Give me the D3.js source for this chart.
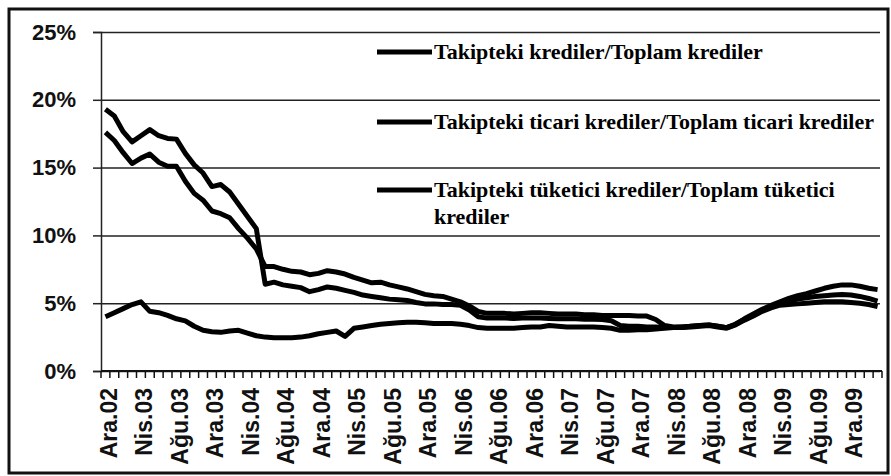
<!DOCTYPE html>
<html lang="tr">
<head>
<meta charset="UTF-8">
<title>Takipteki krediler</title>
<script src="https://cdn.jsdelivr.net/npm/d3@7/dist/d3.min.js"></script>
<style>
  body { margin: 0; background: #fff; }
  .ylab text { font: bold 22px "Liberation Sans", Arial, sans-serif; fill: #111; }
  .xlab { font: bold 23px "Liberation Sans", Arial, sans-serif; fill: #111; }
  .legend text { font: bold 22px "Liberation Serif", "Times New Roman", serif; fill: #000; }
</style>
</head>
<body>
<div id="chart"></div>
<script>
// month names used for the category axis
var monthNames = ["Oca", "Şub", "Mar", "Nis", "May", "Haz", "Tem", "Ağu", "Eyl", "Eki", "Kas", "Ara"];
// Ara.02 .. Mar.10, one category per month
var months = [];
for (var yr = 2; yr <= 10; yr++) {
  for (var m = 0; m < 12; m++) {
    if ((yr === 2 && m < 11) || (yr === 10 && m > 2)) continue;
    months.push(monthNames[m] + "." + (yr < 10 ? "0" + yr : yr));
  }
}
var yTicks = [0, 0.05, 0.10, 0.15, 0.20, 0.25];

var seriesNames = [
  "Takipteki krediler/Toplam krediler",
  "Takipteki ticari krediler/Toplam ticari krediler",
  "Takipteki tüketici krediler/Toplam tüketici krediler"
];

// values in %
var toplam = [17.6, 17.0, 16.1, 15.3, 15.7, 16.0, 15.4, 15.1, 15.1, 14.0, 13.1, 12.6, 11.8, 11.6, 11.3, 10.5, 9.8, 9.0,
  7.7, 7.7, 7.5, 7.35, 7.3, 7.1, 7.2, 7.4, 7.3, 7.15, 6.9, 6.7, 6.5, 6.55, 6.35, 6.2, 6.05, 5.85, 5.65, 5.55, 5.5, 5.3,
  5.1, 4.8, 4.4, 4.25, 4.25, 4.25, 4.2, 4.25, 4.3, 4.3, 4.25, 4.2, 4.2, 4.2, 4.15, 4.15, 4.1, 4.1, 4.1, 4.1, 4.05, 4.05,
  3.8, 3.35, 3.25, 3.25, 3.3, 3.35, 3.4, 3.3, 3.2, 3.45, 3.8, 4.1, 4.45, 4.75, 5.0, 5.15, 5.3, 5.4, 5.5, 5.55, 5.6, 5.65,
  5.6, 5.5, 5.35, 5.15];
var ticari = [19.3, 18.8, 17.65, 16.9, 17.35, 17.8, 17.35, 17.15, 17.1, 16.05, 15.2, 14.6, 13.6, 13.75, 13.2, 12.3, 11.4, 10.5,
  6.4, 6.55, 6.35, 6.25, 6.15, 5.85, 6.0, 6.2, 6.1, 5.95, 5.8, 5.6, 5.5, 5.4, 5.3, 5.25, 5.2, 5.05, 4.95, 4.95, 4.9, 4.9,
  4.85, 4.5, 4.0, 3.9, 3.9, 3.9, 3.88, 3.9, 3.9, 3.9, 3.88, 3.85, 3.85, 3.85, 3.82, 3.82, 3.8, 3.7, 3.35, 3.3, 3.3, 3.25,
  3.25, 3.2, 3.2, 3.2, 3.25, 3.3, 3.35, 3.25, 3.15, 3.4, 3.75, 4.05, 4.4, 4.65, 4.85, 4.9, 4.95, 5.0, 5.05, 5.1, 5.1, 5.1,
  5.05, 5.0, 4.9, 4.75];
var tuketici = [4.0, 4.3, 4.6, 4.9, 5.1, 4.4, 4.3, 4.1, 3.85, 3.7, 3.3, 3.0, 2.9, 2.85, 2.95, 3.0, 2.8, 2.6,
  2.5, 2.45, 2.45, 2.45, 2.5, 2.6, 2.75, 2.85, 2.95, 2.55, 3.15, 3.25, 3.35, 3.45, 3.5, 3.55, 3.6, 3.6, 3.55, 3.5, 3.5, 3.5,
  3.45, 3.35, 3.2, 3.15, 3.15, 3.15, 3.15, 3.2, 3.25, 3.25, 3.35, 3.3, 3.25, 3.25, 3.25, 3.25, 3.2, 3.15, 3.0, 3.0, 3.05, 3.05,
  3.1, 3.15, 3.2, 3.25, 3.3, 3.35, 3.4, 3.3, 3.2, 3.45, 3.85, 4.2, 4.55, 4.85, 5.1, 5.35, 5.55, 5.7, 5.9, 6.1, 6.25, 6.35,
  6.35, 6.25, 6.1, 6.0];

var W = 891, H = 476;
var plotL = 101, plotR = 882, plotT = 32, plotB = 371;

var svg = d3.select("#chart").append("svg")
    .attr("width", W)
    .attr("height", H);

// outer frame
svg.append("rect")
    .attr("x", 9).attr("y", 9)
    .attr("width", 879).attr("height", 464)
    .attr("fill", "none")
    .attr("stroke", "#111")
    .attr("stroke-width", 3);

var x = d3.scaleBand().domain(months).range([plotL, plotR]).padding(0);
var y = d3.scaleLinear().domain([0, 0.25]).range([plotB, plotT]);
var bw = x.bandwidth();

// gridlines + y labels
svg.append("g")
    .attr("class", "ylab")
    .attr("transform", "translate(" + plotL + ",0)")
    .call(d3.axisLeft(y).tickValues(yTicks).tickFormat(d3.format(".0%")).tickSize(8).tickPadding(17))
    .call(function(g) {
      g.select(".domain").attr("stroke", "#222").attr("stroke-width", 1.5);
      g.selectAll(".tick line").attr("stroke", "#222").attr("stroke-width", 1.5);
      g.selectAll(".tick").append("line")
          .attr("x2", plotR - plotL - 2)
          .attr("stroke", "#222")
          .attr("stroke-width", 1.5);
    });

// x axis line and small ticks between categories
var xAxis = svg.append("g");
xAxis.append("line")
    .attr("x1", plotL).attr("x2", plotR)
    .attr("y1", plotB).attr("y2", plotB)
    .attr("stroke", "#111").attr("stroke-width", 2);
xAxis.selectAll("line.tk")
    .data(months.concat(["end"]))
  .enter().append("line")
    .attr("class", "tk")
    .attr("x1", function(d) { return d === "end" ? plotR : x(d); })
    .attr("x2", function(d) { return d === "end" ? plotR : x(d); })
    .attr("y1", plotB).attr("y2", plotB + 7)
    .attr("stroke", "#111").attr("stroke-width", 1.5);

xAxis.selectAll("text")
    .data(months.filter(function(d, i) { return i % 4 === 0; }))
  .enter().append("text")
    .attr("class", "xlab")
    .attr("transform", function(d) {
      return "translate(" + (x(d) + bw / 2 + 3) + "," + (plotB + 17) + ") rotate(-90)";
    })
    .attr("dy", "0.36em")
    .attr("text-anchor", "end")
    .text(function(d) { return d; });

var line = d3.line()
    .x(function(d, i) { return x(months[i]) + bw / 2; })
    .y(function(d) { return y(d / 100); });

var allSeries = [toplam, ticari, tuketici];
svg.append("g").selectAll("path")
    .data(allSeries)
  .enter().append("path")
    .attr("d", line)
    .attr("fill", "none")
    .attr("stroke", "#000")
    .attr("stroke-width", 5)
    .attr("stroke-linejoin", "round");

// legend
var legendY = [52, 122, 190];
var lg = svg.append("g").attr("class", "legend");
lg.selectAll("line")
    .data(seriesNames)
  .enter().append("line")
    .attr("x1", 377).attr("x2", 432)
    .attr("y1", function(d, i) { return legendY[i]; })
    .attr("y2", function(d, i) { return legendY[i]; })
    .attr("stroke", "#000")
    .attr("stroke-width", 5);

var lt = lg.selectAll("text")
    .data(seriesNames)
  .enter().append("text")
    .attr("x", 434)
    .attr("y", function(d, i) { return legendY[i] + 7; });
lt.each(function(d, i) {
  var t = d3.select(this);
  if (i === 2) {
    t.append("tspan").attr("x", 434).text("Takipteki tüketici krediler/Toplam tüketici");
    t.append("tspan").attr("x", 434).attr("dy", 27).text("krediler");
  } else {
    t.text(d);
  }
});
</script>
</body>
</html>
